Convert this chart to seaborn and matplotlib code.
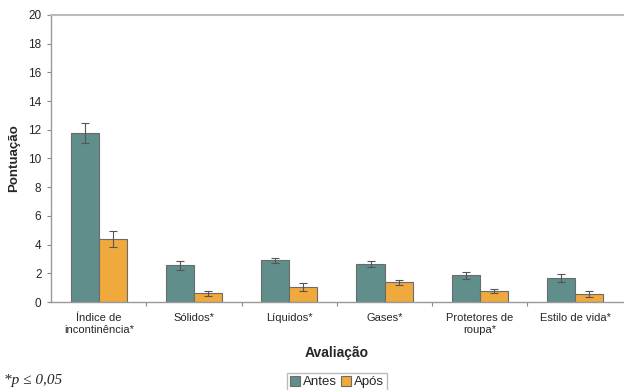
import seaborn as sns
import pandas as pd
import matplotlib.pyplot as plt

categories = ["Índice de\nincontinência*", "Sólidos*", "Líquidos*", "Gases*",
              "Protetores de\nroupa*", "Estilo de vida*"]
antes = [11.75, 2.56, 2.9, 2.67, 1.86, 1.69]
antes_err = [0.7, 0.3, 0.17, 0.21, 0.25, 0.28]
apos = [4.37, 0.6, 1.07, 1.37, 0.75, 0.58]
apos_err = [0.55, 0.17, 0.28, 0.17, 0.15, 0.2]

df = pd.DataFrame({
    "Avaliação": categories * 2,
    "Pontuação": antes + apos,
    "grupo": ["Antes"] * len(categories) + ["Após"] * len(categories),
})

sns.set_theme(style="white")
plt.rcParams['font.family'] = ['Liberation Sans', 'DejaVu Sans']

fig = plt.figure(figsize=(6.24, 3.9), dpi=100)
ax = fig.add_axes([0.082, 0.2256, 0.916, 0.736])

sns.barplot(ax=ax, data=df, x="Avaliação", y="Pontuação", hue="grupo",
            palette=["#5f8e8b", "#f0a93c"], width=0.59, gap=0,
            edgecolor="#6b6b6b", linewidth=0.8, saturation=1)

# error bars placed on the drawn bars
for cont, errs in zip(ax.containers, [antes_err, apos_err]):
    xs = [b.get_x() + b.get_width() / 2 for b in cont]
    hs = [b.get_height() for b in cont]
    ax.errorbar(xs, hs, yerr=errs, fmt="none", ecolor="#555555",
                elinewidth=0.8, capsize=3, capthick=0.8)

ax.set_ylim(0, 20)
ax.set_xlim(-0.5, len(categories) - 0.5)
ax.set_yticks(range(0, 21, 2))
ax.tick_params(axis="y", labelsize=8.5, length=3, width=0.8, color="#888888",
               left=True, pad=4)
ax.tick_params(axis="x", labelsize=8, length=0, pad=8)
ax.set_xticks([i + 0.5 for i in range(len(categories) - 1)], minor=True)
ax.tick_params(axis="x", which="minor", length=3, width=0.8, color="#888888",
               bottom=True)

ax.set_ylabel("Pontuação", fontsize=9.5, fontweight="bold", labelpad=6)
ax.set_xlabel("Avaliação", fontsize=10, fontweight="bold", labelpad=8)

for side in ["left", "bottom", "top"]:
    ax.spines[side].set_color("#999999")
    ax.spines[side].set_linewidth(1.0)
ax.spines["top"].set_color("#bbbbbb")
ax.spines["top"].set_linewidth(1.5)
ax.spines["right"].set_visible(False)

ax.legend(loc="upper center", bbox_to_anchor=(0.5, -0.225), ncol=2,
          frameon=True, fontsize=9.5, handlelength=0.8, handleheight=0.8,
          handletextpad=0.2, columnspacing=0.3, borderpad=0.2,
          fancybox=False, edgecolor="#aaaaaa", title=None)

fig.text(0.006, 0.015, "*p ≤ 0,05", fontsize=11, style="italic",
         family=["Liberation Serif", "DejaVu Serif"])

fig.savefig("out.png", dpi=100)
